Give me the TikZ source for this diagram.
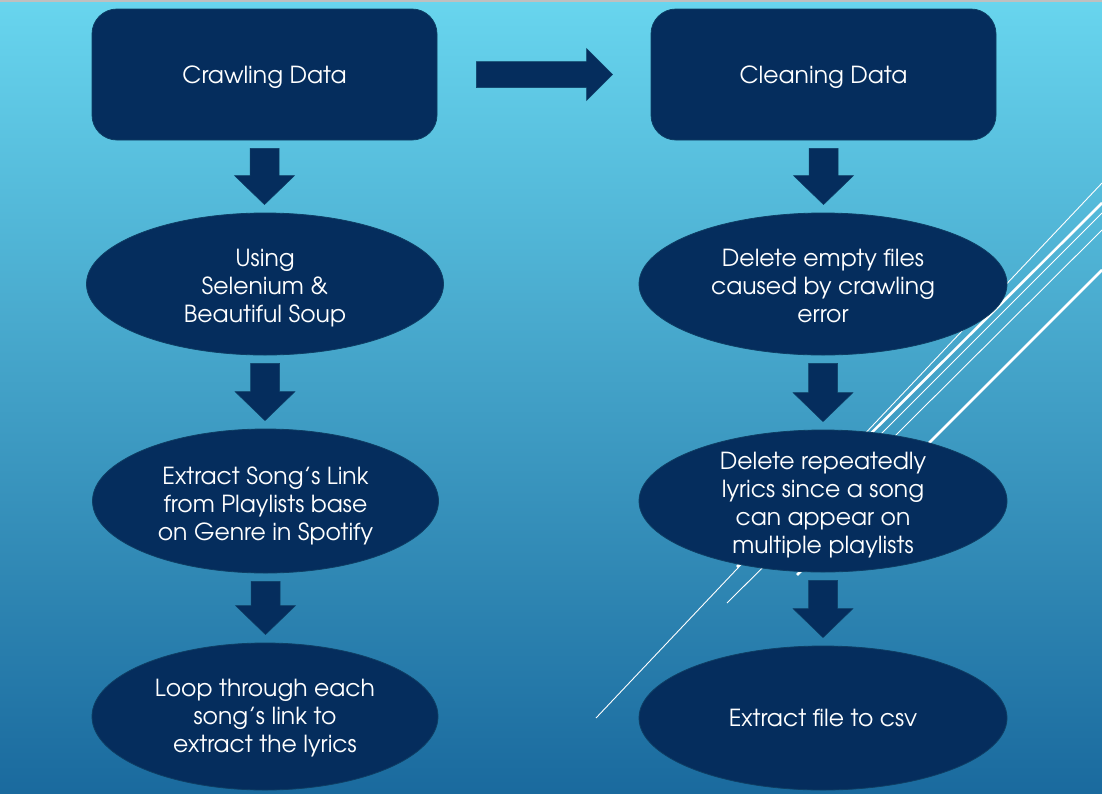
\documentclass[tikz,border=0pt]{standalone}
\usepackage{fontspec}
\setmainfont{TeX Gyre Adventor}
\usetikzlibrary{calc,shapes.geometric}
\definecolor{bgtop}{RGB}{104,213,238}
\definecolor{bgbot}{RGB}{26,106,158}
\definecolor{navy}{RGB}{5,45,93}
\definecolor{navyedge}{RGB}{14,62,100}
\newcommand\blkdown[2]{%
  \fill[blk] let \p1=(#1.south), \p2=(#2.north) in
   (\x1-14.5pt,\y1-8pt) -- (\x1+14.5pt,\y1-8pt) -- (\x1+14.5pt,\y2+37pt) --
   (\x1+30pt,\y2+37pt) -- (\x1,\y2+8pt) -- (\x1-30pt,\y2+37pt) --
   (\x1-14.5pt,\y2+37pt) -- cycle;}
\newcommand\blkright[2]{%
  \fill[blk] let \p1=(#1.east), \p2=(#2.west) in
   (\x1+39pt,\y1+13pt) -- (\x2-64pt,\y1+13pt) -- (\x2-64pt,\y1+26pt) --
   (\x2-38pt,\y1) -- (\x2-64pt,\y1-26pt) -- (\x2-64pt,\y1-13pt) --
   (\x1+39pt,\y1-13pt) -- cycle;}
\begin{document}
\begin{tikzpicture}[x=1pt,y=-1pt,
  txt/.style={text=white, align=center, font=\fontsize{23.5}{28}\selectfont},
  lbl/.style={txt, yshift=-4.5pt},
  lblhi/.style={txt, yshift=-1.8pt},
  lblone/.style={txt, yshift=0pt},
  box/.style={draw=navyedge, line width=0.8pt, fill=navy, rounded corners=25pt,
    minimum width=345pt, minimum height=131pt},
  oval/.style={ellipse, draw=navyedge, line width=0.8pt, fill=navy, inner sep=0pt},
  blk/.style={fill=navy, draw=navyedge, line width=0.5pt},
  thinline/.style={white, line width=0.9pt},
  thickline/.style={white, line width=2.6pt}]
\useasboundingbox (0,0) rectangle (1102,793);
\shade[top color=bgtop, bottom color=bgbot] (0,0) rectangle (1102,793);
\fill[black!25] (0,0) rectangle (1102,1.5);
% decorative diagonal lines
\draw[thinline] (596,718) -- (1102,183);
\draw[thinline] (727,603) -- (1102,230);
\draw[thinline] (760,555) -- (1102,213);
\draw[thickline] (737,567) -- (1102,203);
\draw[thickline] (797,575) -- (1102,270);
% nodes
\node[box, label={[txt,yshift=-3pt]center:Crawling Data}] (c1) at (264.5,74.5) {};
\node[box, label={[txt,yshift=-3pt]center:Cleaning Data}] (c2) at (823.5,74.5) {};
\node[oval, minimum width=357pt, minimum height=142pt,
  label={[lbl]center:{Using\\Selenium \&\\Beautiful Soup}}] (e1) at (265,284) {};
\node[oval, minimum width=346pt, minimum height=144pt,
  label={[lbl]center:{Extract Song’s Link\\from Playlists base\\on Genre in Spotify}}] (e2) at (265.5,501) {};
\node[oval, minimum width=346pt, minimum height=147pt,
  label={[lblhi]center:{Loop through each\\song’s link to\\extract the lyrics}}] (e3) at (265,716.5) {};
\node[oval, minimum width=368pt, minimum height=142pt,
  label={[lblhi]center:{Delete empty files\\caused by crawling\\error}}] (r1) at (823,284) {};
\node[oval, minimum width=368pt, minimum height=142pt,
  label={[lbl]center:{Delete repeatedly\\lyrics since a song\\can appear on\\multiple playlists}}] (r2) at (823,501) {};
\node[oval, minimum width=368pt, minimum height=144pt,
  label={[lblone]center:{Extract file to csv}}] (r3) at (823,718) {};
% block arrows
\blkright{c1}{c2}
\blkdown{c1}{e1}
\blkdown{e1}{e2}
\blkdown{e2}{e3}
\blkdown{c2}{r1}
\blkdown{r1}{r2}
\blkdown{r2}{r3}
\end{tikzpicture}
\end{document}
